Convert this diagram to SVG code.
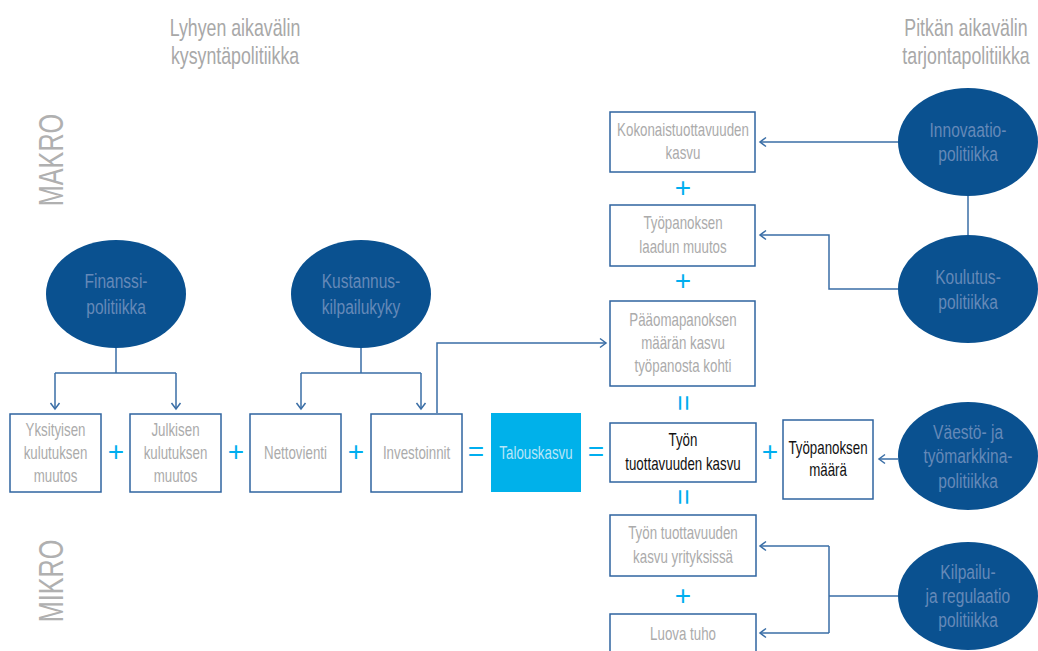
<svg xmlns="http://www.w3.org/2000/svg" width="1038" height="651" viewBox="0 0 1038 651">
<style>
.t{font-family:"Liberation Sans",Arial,sans-serif;text-anchor:middle;transform-box:fill-box;transform-origin:center;transform:scaleX(0.74)}
.title{font-size:24px;fill:#a8a8a8}
.side{font-size:36px;fill:#b0b0b0;transform:scaleX(0.7)}
.bx{font-size:18px;fill:#ababab}
.bk{font-size:18px;fill:#111}
.el{font-size:21px;fill:#6589b8;transform:scaleX(0.74)}
.tk{font-size:18px;fill:#b8e6f8}
.op{font-family:"Liberation Sans",Arial,sans-serif;font-size:28px;fill:#00aeef;text-anchor:middle}
.box{fill:#fff;stroke:#2f64a0;stroke-width:1.5}
.ell{fill:#0a5190}
.con path{fill:none;stroke:#3a6ea6;stroke-width:1.5}
</style>
<defs>
<marker id="ah" viewBox="-8 -6 10 12" refX="0" refY="0" markerWidth="10" markerHeight="12" orient="auto" markerUnits="userSpaceOnUse">
<path d="M-6,-4.5 L0,0 L-6,4.5" fill="none" stroke="#3a6ea6" stroke-width="1.5"/>
</marker>
</defs>
<rect width="1038" height="651" fill="#fff"/>

<g id="titles">
<text class="t title" x="235" y="36">Lyhyen aikavälin</text>
<text class="t title" x="235" y="64">kysyntäpolitiikka</text>
<text class="t title" x="966" y="36">Pitkän aikavälin</text>
<text class="t title" x="966" y="64">tarjontapolitiikka</text>
<g transform="translate(63,160) rotate(-90)"><text class="t side" x="0" y="0">MAKRO</text></g>
<g transform="translate(63,581) rotate(-90)"><text class="t side" x="0" y="0">MIKRO</text></g>
</g>

<g class="con" id="connectors">
<path d="M116,348 V373 M55,373 H176"/>
<path d="M55,373 V409" marker-end="url(#ah)"/>
<path d="M176,373 V409" marker-end="url(#ah)"/>
<path d="M361,348 V373 M301,373 H421"/>
<path d="M301,373 V409" marker-end="url(#ah)"/>
<path d="M421,373 V409" marker-end="url(#ah)"/>
<path d="M437,413 V343 H606" marker-end="url(#ah)"/>
<path d="M898,142 H760" marker-end="url(#ah)"/>
<path d="M968,196 V235"/>
<path d="M898,289 H829 V235 H760" marker-end="url(#ah)"/>
<path d="M898,459 H879" marker-end="url(#ah)"/>
<path d="M898,596 H829 M829,546 V633"/>
<path d="M829,546 H760" marker-end="url(#ah)"/>
<path d="M829,633 H760" marker-end="url(#ah)"/>
</g>

<g id="finanssi"><ellipse class="ell" cx="116" cy="294" rx="70" ry="54"/>
<text class="t el" x="116" y="288">Finanssi-</text><text class="t el" x="116" y="314">politiikka</text></g>
<g id="kustannus"><ellipse class="ell" cx="361" cy="294" rx="70" ry="54"/>
<text class="t el" x="361" y="288">Kustannus-</text><text class="t el" x="361" y="314">kilpailukyky</text></g>
<g id="innovaatio"><ellipse class="ell" cx="968" cy="142" rx="70" ry="54"/>
<text class="t el" x="968" y="137">Innovaatio-</text><text class="t el" x="968" y="161">politiikka</text></g>
<g id="koulutus"><ellipse class="ell" cx="968" cy="289" rx="70" ry="54"/>
<text class="t el" x="968" y="284">Koulutus-</text><text class="t el" x="968" y="309">politiikka</text></g>
<g id="vaesto"><ellipse class="ell" cx="968" cy="456" rx="70" ry="54"/>
<text class="t el" x="968" y="439">Väestö- ja</text><text class="t el" x="968" y="463">työmarkkina-</text><text class="t el" x="968" y="488">politiikka</text></g>
<g id="kilpailu"><ellipse class="ell" cx="968" cy="596" rx="70" ry="54"/>
<text class="t el" x="968" y="579">Kilpailu-</text><text class="t el" x="968" y="603">ja regulaatio</text><text class="t el" x="968" y="627">politiikka</text></g>

<g id="yksityisen"><rect class="box" x="10" y="414" width="91" height="78"/>
<text class="t bx" x="55.5" y="436">Yksityisen</text><text class="t bx" x="55.5" y="459">kulutuksen</text><text class="t bx" x="55.5" y="482">muutos</text></g>
<g id="julkisen"><rect class="box" x="130" y="414" width="91" height="78"/>
<text class="t bx" x="175.5" y="436">Julkisen</text><text class="t bx" x="175.5" y="459">kulutuksen</text><text class="t bx" x="175.5" y="482">muutos</text></g>
<g id="nettovienti"><rect class="box" x="250" y="414" width="91" height="78"/>
<text class="t bx" x="295.5" y="459">Nettovienti</text></g>
<g id="investoinnit"><rect class="box" x="371" y="414" width="91" height="78"/>
<text class="t bx" x="416.5" y="459">Investoinnit</text></g>
<g id="talouskasvu"><rect x="491" y="413" width="90" height="79" fill="#00b1ea"/>
<text class="t tk" x="536" y="459">Talouskasvu</text></g>
<g id="tyon-tuottavuus"><rect class="box" x="610" y="423" width="146" height="59"/>
<text class="t bk" x="683" y="446">Työn</text><text class="t bk" x="683" y="470">tuottavuuden kasvu</text></g>
<g id="tyopanoksen-maara"><rect class="box" x="783" y="420" width="90" height="79"/>
<text class="t bk" x="828" y="454">Työpanoksen</text><text class="t bk" x="828" y="476">määrä</text></g>
<g id="kokonais"><rect class="box" x="610" y="112" width="145" height="60"/>
<text class="t bx" x="683" y="136">Kokonaistuottavuuden</text><text class="t bx" x="683" y="159">kasvu</text></g>
<g id="laatu"><rect class="box" x="610" y="205" width="145" height="61"/>
<text class="t bx" x="683" y="229">Työpanoksen</text><text class="t bx" x="683" y="253">laadun muutos</text></g>
<g id="paaoma"><rect class="box" x="610" y="301" width="145" height="85"/>
<text class="t bx" x="683" y="326">Pääomapanoksen</text><text class="t bx" x="683" y="349">määrän kasvu</text><text class="t bx" x="683" y="372">työpanosta kohti</text></g>
<g id="yrityksissa"><rect class="box" x="610" y="515" width="146" height="61"/>
<text class="t bx" x="683" y="539">Työn tuottavuuden</text><text class="t bx" x="683" y="563">kasvu yrityksissä</text></g>
<g id="luova"><rect class="box" x="610" y="614" width="146" height="45"/>
<text class="t bx" x="683" y="640">Luova tuho</text></g>

<g id="operators">
<text class="op" x="116" y="461">+</text>
<text class="op" x="236" y="461">+</text>
<text class="op" x="356" y="461">+</text>
<text class="op" x="770" y="461">+</text>
<text class="op" x="683" y="197">+</text>
<text class="op" x="683" y="290">+</text>
<text class="op" x="683" y="605">+</text>
<text class="op" x="476" y="461">=</text>
<text class="op" x="596" y="461">=</text>
<g transform="translate(683,403) rotate(90)"><text class="op" x="0" y="9">=</text></g>
<g transform="translate(683,497) rotate(90)"><text class="op" x="0" y="9">=</text></g>
</g>
</svg>
